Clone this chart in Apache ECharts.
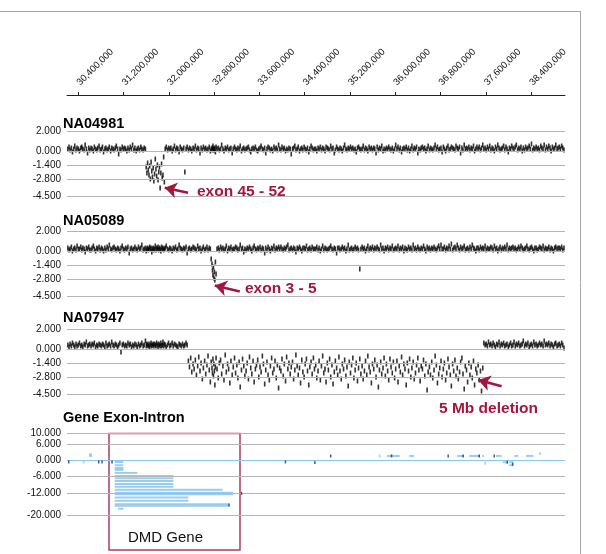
<!DOCTYPE html>
<html><head><meta charset="utf-8">
<script src="https://cdn.jsdelivr.net/npm/echarts@6/dist/echarts.min.js"></script>
<style>html,body{margin:0;padding:0;background:#fff}#c{width:606px;height:554px}</style>
</head><body><div id="c"></div>
<script>
// ---- top axis ticks (bp)
const xTicks=[30400000,31200000,32000000,32800000,33600000,34400000,35200000,36000000,36800000,37600000,38400000];
const cnTicks=[2,0,-1.4,-2.8,-4.5];
const geneTicks=[10,6,0,-6,-12,-20];
const panelNames=['NA04981','NA05089','NA07947'];

// ---- probe positions (kb), shared by the three samples
const probeKb=[
30215,30236,30254,30277,30296,30318,30337,30359,30378,30401,
30420,30443,30461,30480,30503,30521,30542,30563,30584,30602,
30625,30644,30666,30683,30705,30726,30744,30767,30786,30808,
30827,30846,30869,30888,30909,30930,30948,30971,30990,31012,
31031,31053,31072,31094,31113,31135,31154,31176,31195,31217,
31236,31258,31277,31299,31318,31340,31359,31381,31400,31422,
31441,31463,31482,31504,31523,31545,31564,31586,31600,31612,
31624,31636,31649,31661,31673,31686,31698,31710,31723,31735,
31748,31760,31772,31785,31797,31809,31822,31834,31846,31859,
31871,31883,31896,31908,31920,31935,31954,31976,31995,32017,
32036,32058,32077,32099,32118,32140,32159,32181,32200,32222,
32241,32263,32282,32304,32323,32345,32364,32386,32405,32427,
32446,32468,32487,32509,32528,32550,32569,32591,32610,32632,
32651,32673,32692,32714,32733,32748,32762,32771,32779,32788,
32796,32805,32813,32822,32834,32851,32873,32892,32914,32933,
32955,32974,32996,33015,33037,33056,33078,33097,33119,33138,
33160,33179,33201,33220,33242,33261,33283,33302,33324,33343,
33365,33384,33406,33425,33447,33466,33488,33507,33529,33548,
33570,33589,33611,33630,33652,33671,33693,33712,33734,33753,
33775,33794,33816,33835,33857,33876,33898,33917,33939,33958,
33980,33999,34021,34040,34062,34081,34103,34122,34144,34163,
34185,34204,34226,34245,34267,34286,34308,34327,34349,34368,
34390,34409,34431,34450,34472,34491,34513,34532,34554,34573,
34595,34614,34636,34655,34677,34696,34718,34737,34759,34778,
34800,34819,34841,34860,34882,34901,34923,34942,34964,34983,
35005,35024,35046,35065,35087,35106,35128,35147,35169,35188,
35210,35229,35251,35270,35292,35311,35333,35352,35374,35393,
35415,35434,35456,35475,35497,35516,35538,35557,35579,35598,
35620,35639,35661,35680,35702,35721,35743,35762,35784,35803,
35825,35844,35866,35885,35907,35926,35948,35967,35989,36008,
36030,36049,36071,36090,36112,36131,36153,36172,36194,36213,
36235,36254,36276,36295,36317,36336,36358,36377,36399,36418,
36440,36459,36481,36500,36522,36541,36563,36582,36604,36623,
36645,36664,36686,36705,36727,36746,36768,36787,36809,36828,
36850,36869,36891,36910,36932,36951,36973,36992,37014,37033,
37055,37074,37096,37115,37137,37156,37178,37197,37219,37238,
37260,37279,37301,37320,37342,37361,37383,37402,37424,37443,
37465,37484,37506,37525,37547,37566,37588,37607,37629,37648,
37670,37689,37711,37730,37752,37771,37793,37812,37834,37853,
37875,37894,37916,37935,37957,37976,37998,38017,38039,38058,
38080,38099,38121,38140,38162,38181,38203,38222,38244,38263,
38285,38304,38326,38345,38367,38386,38408,38427,38449,38468,
38490,38509,38531,38550,38572,38591,38613,38632,38654,38673,
38695,38714,38736,38755,38777,38796,38818,38837,38859,38878,
38900,38919,38941,38960,38982];

// ---- log2 ratios per sample
const na04981=[
0.2,0.4,0.1,0.3,-0.1,0.2,0.5,0.1,0.3,0.2,
0.0,0.3,0.4,0.2,0.1,0.6,0.2,-0.2,0.3,0.1,
0.3,0.2,0.0,0.4,0.2,0.1,0.3,0.5,0.1,0.2,
0.4,-0.1,0.2,0.3,0.1,0.2,0.4,0.0,0.3,0.2,
0.1,0.3,0.5,0.2,-0.3,0.2,0.1,0.4,0.2,0.3,
0.2,0.0,0.3,0.1,0.4,0.2,0.6,0.1,0.3,0.0,
0.2,0.3,0.1,0.4,0.2,0.1,0.3,0.2,-1.6,-2.2,
-1.2,-1.9,-2.4,-1.5,-2.8,-1.1,-2.0,-2.6,-1.7,-3.0,
-2.3,-0.8,-1.8,-2.5,-1.4,-2.9,-2.1,-1.6,-3.7,-2.2,
-1.3,-2.7,-2.4,-0.6,-3.1,0.2,0.4,0.1,0.3,0.2,
0.3,0.0,0.2,0.5,0.1,0.3,0.2,-0.1,0.4,0.2,
0.1,0.3,-2.1,0.2,0.4,0.1,0.3,0.2,0.0,0.3,
0.2,0.5,0.1,0.3,0.2,-0.2,0.3,0.1,0.4,0.2,
0.3,0.1,0.2,0.4,0.0,0.2,0.3,0.1,0.5,0.2,
0.1,0.3,0.2,-0.1,0.4,0.2,0.3,0.1,0.2,0.6,
0.2,0.0,0.3,0.2,0.4,0.1,0.2,0.3,-0.2,0.2,
0.4,0.2,0.1,0.3,0.2,0.5,0.0,0.2,0.3,0.1,
0.2,0.3,0.4,0.1,-0.1,0.2,0.3,0.2,0.4,0.1,
0.0,0.2,0.3,0.5,0.2,0.1,0.3,-0.2,0.2,0.4,
0.3,0.1,0.2,0.0,0.4,0.2,0.3,0.1,0.6,0.2,
0.1,0.4,0.2,0.3,0.0,0.2,0.1,0.3,0.2,-0.3,
0.2,0.3,0.5,0.1,0.2,0.4,0.0,0.2,0.3,0.1,
0.4,0.2,0.1,0.3,-0.1,0.2,0.5,0.3,0.1,0.2,
0.2,0.0,0.3,0.2,0.4,0.1,0.3,0.2,0.0,0.4,
0.3,0.2,0.1,0.5,0.2,0.3,-0.2,0.1,0.4,0.2,
0.1,0.3,0.2,0.0,0.3,0.6,0.2,0.1,0.3,0.2,
0.4,0.2,0.3,0.1,0.2,-0.1,0.3,0.4,0.2,0.1,
0.2,0.5,0.1,0.3,0.2,0.0,0.4,0.2,0.3,0.1,
0.3,0.2,-0.2,0.4,0.1,0.3,0.2,0.5,0.0,0.2,
0.1,0.3,0.2,0.4,0.2,0.1,0.3,0.0,0.2,0.6,
0.2,0.4,0.1,0.3,-0.1,0.2,0.3,0.2,0.4,0.1,
0.3,0.0,0.2,0.5,0.1,0.3,0.2,0.4,-0.2,0.2,
0.1,0.3,0.4,0.2,0.3,0.0,0.2,0.5,0.1,0.3,
0.2,0.1,0.3,0.6,0.2,0.4,0.1,0.2,0.3,-0.1,
0.4,0.2,0.0,0.3,0.5,0.1,0.2,0.4,0.3,0.2,
0.1,0.5,0.3,0.2,0.4,-0.2,0.3,0.1,0.6,0.2,
0.3,0.2,0.4,0.1,0.3,0.2,0.5,0.0,0.2,0.4,
0.2,0.4,0.1,0.3,0.6,0.2,0.3,0.1,0.4,0.2,
0.5,0.1,0.3,0.2,0.0,0.4,0.2,0.6,0.3,0.1,
0.2,0.3,0.5,0.1,0.4,0.2,-0.1,0.3,0.2,0.5,
0.3,0.2,0.4,0.6,0.1,0.3,0.2,0.4,0.0,0.3,
0.1,0.4,0.2,0.3,0.5,0.2,0.7,0.1,0.3,0.2,
0.4,0.2,0.3,0.1,0.5,0.3,0.2,0.6,0.1,0.4,
0.2,0.5,0.3,0.0,0.4,0.2,0.3,0.6,0.2,0.3,
0.4,0.2,0.5,0.3,0.1];

const na05089=[
0.3,0.1,0.2,0.4,0.0,0.2,0.3,0.1,0.5,0.2,
0.2,0.4,0.1,0.3,0.2,-0.1,0.3,0.2,0.4,0.1,
0.1,0.3,0.5,0.2,0.0,0.3,0.2,0.4,0.1,0.3,
0.2,0.0,0.3,0.1,0.4,0.2,0.6,0.2,0.1,0.3,
0.4,0.2,0.1,0.3,0.2,0.0,0.3,0.5,0.2,0.1,
0.3,0.2,0.4,-0.2,0.2,0.3,0.1,0.2,0.4,0.2,
0.1,0.4,0.2,0.3,0.6,0.1,0.2,0.3,0.0,0.2,
0.3,0.1,0.2,0.4,0.2,0.3,-0.1,0.2,0.3,0.1,
0.2,0.5,0.1,0.3,0.2,0.4,0.1,0.3,0.2,0.0,
0.4,0.2,0.3,0.1,0.2,0.3,0.5,0.2,0.1,0.3,
0.2,0.0,0.3,0.2,0.4,0.1,0.2,0.6,0.3,0.2,
0.1,0.3,0.2,0.4,-0.2,0.2,0.3,0.1,0.2,0.4,
0.3,0.2,0.1,0.5,0.2,0.3,0.0,0.2,0.4,0.1,
0.2,0.4,0.1,0.3,0.2,-0.8,-1.3,-1.9,-2.4,-1.6,
-2.7,-2.1,-2.9,-1.1,-2.3,0.2,0.3,0.1,0.4,0.2,
0.3,0.1,0.2,0.5,0.0,0.3,0.2,0.4,0.1,0.2,
0.2,0.4,0.3,0.1,0.2,0.6,0.2,0.3,-0.1,0.2,
0.1,0.3,0.2,0.4,0.2,0.0,0.3,0.5,0.2,0.1,
0.3,0.2,0.4,0.1,0.3,0.2,-0.2,0.3,0.1,0.4,
0.2,0.0,0.3,0.2,0.5,0.1,0.3,0.2,0.4,0.2,
0.4,0.2,0.1,0.3,0.2,0.4,0.6,0.1,0.2,0.3,
0.1,0.3,0.2,-0.1,0.3,0.2,0.4,0.2,0.0,0.3,
0.3,0.2,0.5,0.1,0.2,0.3,0.1,0.4,0.2,0.2,
0.2,0.4,0.1,0.3,0.0,0.2,0.5,0.1,0.3,0.2,
0.1,0.2,0.3,0.5,0.2,0.1,0.3,0.2,-0.2,0.3,
0.3,0.1,0.2,0.4,0.2,0.3,0.0,0.2,0.6,0.1,
0.2,0.3,0.1,0.2,0.4,0.2,0.3,0.1,-1.8,0.2,
0.4,0.2,0.3,0.0,0.2,0.5,0.1,0.3,0.2,0.4,
0.1,0.3,0.2,0.4,0.2,0.1,0.6,0.2,0.3,0.0,
0.3,0.2,0.4,0.1,0.3,0.2,0.5,0.1,0.2,0.3,
0.2,0.5,0.1,0.3,0.2,0.4,0.0,0.3,0.2,0.1,
0.4,0.2,0.3,0.1,0.6,0.2,0.3,0.1,0.4,0.2,
0.1,0.3,0.2,0.5,0.2,0.0,0.4,0.2,0.3,0.1,
0.3,0.2,0.4,0.2,0.1,0.3,0.5,0.2,0.6,0.2,
0.2,0.4,0.1,0.3,0.2,0.5,0.2,0.7,0.1,0.3,
0.4,0.2,0.6,0.3,0.1,0.4,0.2,0.3,0.5,0.1,
0.2,0.3,0.1,0.4,0.2,0.6,0.3,0.2,0.0,0.3,
0.3,0.1,0.4,0.2,0.3,0.2,0.5,0.1,0.3,0.2,
0.2,0.4,0.3,0.1,0.5,0.2,0.3,0.0,0.2,0.4,
0.1,0.3,0.2,0.4,0.2,0.6,0.1,0.3,0.2,0.3,
0.4,0.2,0.3,0.1,0.2,0.4,0.2,0.5,0.3,0.1,
0.2,0.3,0.5,0.2,0.1,0.3,0.4,0.2,0.0,0.3,
0.3,0.1,0.2,0.4,0.3,0.2,0.5,0.1,0.3,0.2,
0.2,0.4,0.1,0.3,0.2,0.0,0.3,0.4,0.2,0.3,
0.3,0.2,0.4,0.1,0.3];

const na07947=[
0.4,0.2,0.5,0.3,0.6,0.4,0.2,0.5,0.3,0.4,
0.6,0.3,0.4,0.2,0.5,0.4,0.7,0.3,0.4,0.5,
0.3,0.5,0.4,0.6,0.2,0.4,0.3,0.5,0.4,0.3,
0.5,0.4,0.2,0.6,0.3,0.4,0.5,0.3,0.7,0.4,
0.3,0.5,0.4,0.2,0.4,0.6,-0.3,0.4,0.5,0.3,
0.4,0.3,0.6,0.4,0.5,0.2,0.4,0.3,0.5,0.4,
0.2,0.5,0.3,0.4,0.6,0.3,0.4,0.8,0.3,0.5,
0.4,0.3,0.5,0.2,0.4,0.6,0.3,0.4,0.5,0.3,
0.5,0.4,0.3,0.6,0.4,0.2,0.5,0.4,0.3,0.6,
0.3,0.4,0.7,0.3,0.5,0.4,0.2,0.4,0.6,0.3,
0.4,0.6,0.3,0.5,0.4,0.3,0.2,0.5,0.4,0.3,
0.5,0.3,0.4,0.6,0.4,-1.2,-1.8,-0.9,-2.3,-1.5,
-2.0,-1.1,-2.6,-1.7,-0.8,-2.2,-1.4,-3.0,-1.9,-1.2,
-2.5,-1.6,-0.7,-2.1,-3.3,-1.3,-1.9,-2.4,-1.0,-2.7,
-1.5,-2.2,-3.6,-1.8,-0.9,-2.0,-2.9,-1.4,-1.1,-2.5,
-1.7,-3.1,-0.6,-2.3,-1.5,-2.0,-3.4,-1.2,-2.6,-1.8,
-0.9,-2.4,-1.6,-2.9,-1.3,-3.8,-2.1,-1.0,-1.7,-2.7,
-2.2,-1.4,-3.0,-0.8,-1.9,-2.5,-1.2,-3.3,-2.0,-1.6,
-1.1,-2.8,-1.8,-2.3,-0.7,-1.5,-3.5,-2.1,-1.3,-2.6,
-3.1,-1.7,-0.9,-2.4,-2.0,-1.2,-2.9,-1.6,-3.9,-1.9,
-2.2,-1.0,-2.7,-1.5,-3.2,-0.8,-2.0,-1.4,-2.5,-1.8,
-1.3,-3.0,-2.1,-0.6,-1.7,-2.6,-1.9,-3.4,-1.1,-2.3,
-2.8,-1.5,-1.0,-2.2,-3.6,-1.8,-1.3,-2.5,-0.9,-2.0,
-1.6,-2.9,-2.2,-1.2,-3.1,-1.7,-0.7,-2.4,-2.0,-3.3,
-1.4,-2.1,-1.0,-2.8,-1.6,-3.5,-2.3,-1.2,-1.9,-2.6,
-0.8,-2.2,-3.0,-1.5,-2.0,-1.1,-2.7,-1.8,-3.7,-1.3,
-2.4,-1.6,-0.9,-2.9,-2.1,-1.4,-3.2,-1.9,-1.0,-2.5,
-1.7,-3.0,-2.2,-1.2,-2.6,-0.7,-1.8,-2.3,-3.4,-1.5,
-2.0,-1.1,-2.8,-1.6,-3.8,-2.1,-1.3,-2.5,-1.9,-0.9,
-2.7,-1.5,-2.2,-3.1,-1.0,-1.8,-2.4,-1.3,-2.9,-2.0,
-1.2,-3.3,-1.7,-2.3,-0.8,-2.6,-1.5,-2.0,-3.6,-1.4,
-2.2,-1.0,-2.8,-1.9,-1.3,-3.0,-2.4,-1.6,-0.9,-2.1,
-3.2,-1.7,-2.0,-1.1,-2.7,-1.5,-4.1,-2.3,-1.8,-2.6,
-1.3,-2.9,-2.1,-0.7,-1.6,-3.4,-2.5,-1.9,-1.2,-2.8,
-2.0,-1.4,-3.1,-2.4,-1.0,-1.8,-2.6,-3.7,-1.5,-2.2,
-1.1,-2.7,-1.9,-3.0,-2.3,-1.3,-0.9,-2.5,-4.0,-1.7,
-2.1,-3.3,-1.4,-2.6,-1.8,-2.9,-1.2,-3.6,-2.0,-2.4,
-1.6,-3.1,-2.2,-4.2,-1.9,0.6,0.4,0.5,0.3,0.7,
0.4,0.5,0.3,0.6,0.4,0.2,0.5,0.4,0.7,0.3,
0.5,0.4,0.6,0.3,0.4,0.5,0.2,0.4,0.6,0.3,
0.4,0.7,0.3,0.5,0.4,0.6,0.3,0.4,0.5,0.8,
0.3,0.5,0.4,0.6,0.2,0.4,0.5,0.3,0.7,0.4,
0.5,0.3,0.4,0.6,0.4,0.5,0.3,0.8,0.4,0.5,
0.4,0.6,0.3,0.5,0.4,0.2,0.5,0.6,0.3,0.4,
0.5,0.3,0.6,0.4,0.1];

// ---- gene track (bp start, bp end, track level)
const isoStart=[31043000,31043000,31043000,31043000,31043000,31043000,31043000,31043000,31043000,31043000,31043000,31043000,31043000,31102000];
const isoEnd  =[31197000,31197000,31197000,31197000,31445000,32081000,32081000,32081000,32081000,32081000,32948000,32346000,32346000,31197000];
const isoLevel=[-0.6,-1.8,-2.8,-3.5,-4.6,-5.7,-6.6,-7.6,-8.7,-9.7,-10.8,-13.6,-14.8,-17.7];
const majorStart=[31043000,31043000,30590000];
const majorEnd  =[33135000,33064000,30642000];
const majorLevel=[-12.1,-16.3,1.9];
const otherStart=[35854000,36247000,37095000,37307000,37537000,37780000,37898000,38015000,38015000,38103000,38310000];
const otherEnd  =[36080000,36330000,37210000,37496000,37567000,37880000,37980000,38086000,38086000,38174000,38440000];
const otherLevel=[1.6,1.6,1.6,1.6,1.6,1.6,-0.7,-0.7,-1.8,1.6,1.6];
const darkPos=[30230000,30760000,30820000,30996000,33284000,33064000,34060000,34580000,34860000,35935000,36936000,37200000,37484000,37750000,37980000,38075000];
const darkLevel=[-0.6,-0.6,-0.6,-0.6,-12.1,-16.3,-0.6,-0.8,1.6,1.6,1.6,1.6,1.6,1.6,-0.7,-1.4];
const lightPos=[30495000,35725000,37590000,38557000];
const lightLevel=[-0.6,1.6,-1.0,2.5];

const XMIN=30200000, XMAX=39000000;
const FONT='"Liberation Sans", Arial, sans-serif';
const RED='#a3173f', BLUE='#98cdf0', NAVY='#1b2a6b', GRID='#b5b5b5';

const chart=echarts.init(document.getElementById('c'),null,{renderer:'canvas'});

const grids=[
 {left:67,right:41,top:89,height:6},
 {left:67,right:41,top:131,height:65},
 {left:67,right:41,top:231,height:65},
 {left:67,right:41,top:329,height:65},
 {left:67,right:41,top:433,height:82}
];
const xAxes=[{
  gridIndex:0,type:'value',position:'top',min:XMIN,max:XMAX,
  axisLine:{show:true,lineStyle:{color:'#222',width:1}},
  axisTick:{show:true,length:3,customValues:xTicks,lineStyle:{color:'#222'}},
  axisLabel:{customValues:xTicks,rotate:45,fontSize:9.5,fontFamily:FONT,color:'#111',margin:5,
    formatter:v=>Number(v).toLocaleString('en-US')},
  splitLine:{show:false}
}];
for(let i=1;i<=4;i++) xAxes.push({gridIndex:i,type:'value',min:XMIN,max:XMAX,show:false});
const yLab=(vals)=>({customValues:vals,fontSize:10,fontFamily:FONT,color:'#111',margin:6,formatter:v=>Number(v).toFixed(3)});
const yAxes=[{gridIndex:0,type:'value',min:0,max:1,show:false}];
for(let i=1;i<=3;i++) yAxes.push({gridIndex:i,type:'value',min:-4.5,max:2,axisLine:{show:false},axisTick:{show:false},splitLine:{show:false},axisLabel:yLab(cnTicks)});
yAxes.push({gridIndex:4,type:'value',min:-20,max:10,axisLine:{show:false},axisTick:{show:false},splitLine:{show:false},axisLabel:yLab(geneTicks)});

const series=[];
const samples=[na04981,na05089,na07947];
samples.forEach((arr,k)=>{
  const i=k+1;
  series.push({type:'line',xAxisIndex:i,yAxisIndex:i,data:[],z:1,silent:true,
    markLine:{silent:true,symbol:'none',animation:false,label:{show:false},
      lineStyle:{color:GRID,width:1,type:'solid'},data:cnTicks.map(v=>({yAxis:v}))}});
  series.push({type:'scatter',name:panelNames[k],xAxisIndex:i,yAxisIndex:i,z:3,silent:true,
    symbol:'rect',symbolSize:[1.6,5],itemStyle:{color:'#000'},
    data:probeKb.map((p,j)=>[p*1000,arr[j]])});
});
// gene track gridlines
series.push({type:'line',xAxisIndex:4,yAxisIndex:4,data:[],z:1,silent:true,
  markLine:{silent:true,symbol:'none',animation:false,label:{show:false},
    data:geneTicks.map(v=>({yAxis:v,lineStyle:{color:v===0?'#8ec8ee':GRID,width:1,type:'solid'}}))}});
function barSeries(starts,ends,levels,h){
  return {type:'custom',xAxisIndex:4,yAxisIndex:4,z:3,silent:true,
    encode:{x:[0,1],y:2},
    data:starts.map((s,j)=>[s,ends[j],levels[j]]),
    renderItem:(params,api)=>{
      const a=api.coord([api.value(0),api.value(2)]);
      const b=api.coord([api.value(1),api.value(2)]);
      return {type:'rect',shape:{x:a[0],y:a[1]-h/2,width:Math.max(b[0]-a[0],1),height:h},style:{fill:BLUE}};
    }};
}
series.push(barSeries(isoStart,isoEnd,isoLevel,2));
series.push(barSeries(majorStart,majorEnd,majorLevel,3.5));
series.push(barSeries(otherStart,otherEnd,otherLevel,2));
series.push({type:'scatter',xAxisIndex:4,yAxisIndex:4,z:4,silent:true,symbol:'rect',symbolSize:[2,3],
  itemStyle:{color:BLUE},data:lightPos.map((p,j)=>[p,lightLevel[j]])});
series.push({type:'scatter',xAxisIndex:4,yAxisIndex:4,z:5,silent:true,symbol:'rect',symbolSize:[1.5,3],
  itemStyle:{color:NAVY},data:darkPos.map((p,j)=>[p,darkLevel[j]])});

// arrows (data coordinates: tail -> head)
const arrows=[
 {panel:1,from:[32339000,-4.17],to:[31927000,-3.67]},
 {panel:2,from:[33253000,-4.05],to:[32811000,-3.45]},
 {panel:3,from:[37880000,-3.73],to:[37467000,-3.1]}
];
arrows.forEach(a=>{
  series.push({type:'line',xAxisIndex:a.panel,yAxisIndex:a.panel,data:[],z:6,silent:true,
    markLine:{silent:true,animation:false,symbol:['none','arrow'],symbolSize:12,label:{show:false},
      lineStyle:{color:RED,width:2.6,type:'solid'},
      data:[[{coord:a.from},{coord:a.to}]]}});
});

const titleText=(t,x,y)=>({type:'text',left:x,top:y-9,style:{text:t,fill:'#000',font:'bold 14.5px '+FONT}});
const redText=(t,x,y)=>({type:'text',left:x,top:y-9,style:{text:t,fill:RED,font:'bold 15.5px '+FONT}});
chart.setOption({
  animation:false,
  grid:grids,xAxis:xAxes,yAxis:yAxes,series:series,
  graphic:[
    {type:'line',shape:{x1:0,y1:11.5,x2:580,y2:11.5},style:{stroke:'#aaa',lineWidth:1}},
    {type:'line',shape:{x1:580.5,y1:11,x2:580.5,y2:554},style:{stroke:'#aaa',lineWidth:1}},
    titleText('NA04981',63,125),
    titleText('NA05089',63,222),
    titleText('NA07947',63,319),
    titleText('Gene Exon-Intron',63,419),
    redText('exon 45 - 52',197,193),
    redText('exon 3 - 5',245,290),
    redText('5 Mb deletion',439,410),
    {type:'rect',shape:{x:109,y:433.5,width:131,height:116.5},style:{fill:'none',stroke:'#b03c5c',lineWidth:1.5}},
    {type:'text',left:128,top:530,style:{text:'DMD Gene',fill:'#111',font:'15px '+FONT}}
  ]
});
</script></body></html>
